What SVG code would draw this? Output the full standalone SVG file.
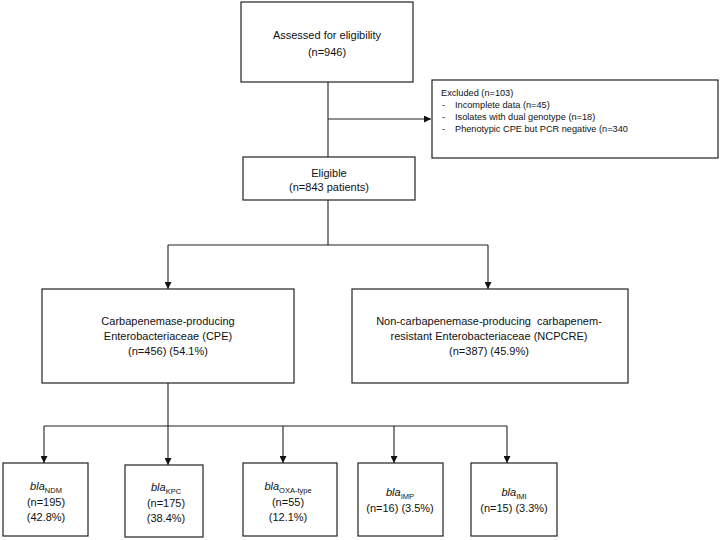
<svg xmlns="http://www.w3.org/2000/svg" width="720" height="540" viewBox="0 0 720 540">
<defs>
<marker id="ah" viewBox="0 0 10 10" refX="10" refY="5" markerWidth="7" markerHeight="7" markerUnits="userSpaceOnUse" orient="auto">
<path d="M0,0 L10,5 L0,10 z" fill="#111"/>
</marker>
<style>
.box{fill:#fff;stroke:#222;stroke-width:1.2}
.ln{fill:none;stroke:#222;stroke-width:1.1}
.arr{fill:none;stroke:#222;stroke-width:1.1;marker-end:url(#ah)}
text{font-family:"Liberation Sans",Arial,sans-serif;font-size:11px;fill:#111}
.c{text-anchor:middle}
.sm{font-size:9.2px}
.sub{font-size:7.5px;font-style:normal}
.it{font-style:italic}
</style>
</defs>
<rect width="720" height="540" fill="#fff"/>
<g id="connectors">
<line class="ln" x1="328" y1="82" x2="328" y2="157"/>
<line class="arr" x1="328" y1="119" x2="431" y2="119"/>
<line class="ln" x1="328" y1="200" x2="328" y2="245"/>
<polyline class="ln" points="168,245 488,245"/>
<line class="arr" x1="168" y1="245" x2="168" y2="289"/>
<line class="arr" x1="488" y1="245" x2="488" y2="289"/>
<line class="arr" x1="168" y1="383" x2="168" y2="465"/>
<polyline class="ln" points="44,426 507,426"/>
<line class="arr" x1="44" y1="426" x2="44" y2="463"/>
<line class="arr" x1="283" y1="426" x2="283" y2="463"/>
<line class="arr" x1="394" y1="426" x2="394" y2="463"/>
<line class="arr" x1="507" y1="426" x2="507" y2="463"/>
</g>
<g id="assessed">
<rect class="box" x="241" y="2" width="172" height="80"/>
<text class="c" x="327" y="39">Assessed for eligibility</text>
<text class="c" x="327" y="56">(n=946)</text>
</g>
<g id="excluded">
<rect class="box" x="432" y="80" width="286" height="78"/>
<text class="sm" x="441" y="96">Excluded (n=103)</text>
<text class="sm" x="442" y="108">-</text><text class="sm" x="455" y="108">Incomplete data (n=45)</text>
<text class="sm" x="442" y="120">-</text><text class="sm" x="455" y="120">Isolates with dual genotype (n=18)</text>
<text class="sm" x="442" y="132">-</text><text class="sm" x="455" y="132">Phenotypic CPE but PCR negative (n=340</text>
</g>
<g id="eligible">
<rect class="box" x="243" y="157" width="172" height="43"/>
<text class="c" x="329" y="177">Eligible</text>
<text class="c" x="329" y="191">(n=843 patients)</text>
</g>
<g id="cpe">
<rect class="box" x="42" y="289" width="252" height="94"/>
<text class="c" x="168" y="325">Carbapenemase-producing</text>
<text class="c" x="168" y="340">Enterobacteriaceae (CPE)</text>
<text class="c" x="168" y="355">(n=456) (54.1%)</text>
</g>
<g id="ncpcre">
<rect class="box" x="352" y="289" width="276" height="94"/>
<text class="c" x="489" y="325">Non-carbapenemase-producing&#160; carbapenem-</text>
<text class="c" x="489" y="340">resistant Enterobacteriaceae (NCPCRE)</text>
<text class="c" x="489" y="355">(n=387) (45.9%)</text>
</g>
<g id="ndm">
<rect class="box" x="3" y="463" width="85" height="73"/>
<text class="c" x="46" y="490"><tspan class="it">bla</tspan><tspan class="sub" dy="3">NDM</tspan></text>
<text class="c" x="46" y="506">(n=195)</text>
<text class="c" x="46" y="521">(42.8%)</text>
</g>
<g id="kpc">
<rect class="box" x="125" y="465" width="78" height="72"/>
<text class="c" x="166" y="491"><tspan class="it">bla</tspan><tspan class="sub" dy="3">KPC</tspan></text>
<text class="c" x="166" y="507">(n=175)</text>
<text class="c" x="166" y="522">(38.4%)</text>
</g>
<g id="oxa">
<rect class="box" x="243" y="463" width="94" height="73"/>
<text class="c" x="288" y="490"><tspan class="it">bla</tspan><tspan class="sub" dy="3">OXA-type</tspan></text>
<text class="c" x="288" y="506">(n=55)</text>
<text class="c" x="288" y="521">(12.1%)</text>
</g>
<g id="imp">
<rect class="box" x="358" y="463" width="85" height="73"/>
<text class="c" x="400" y="496"><tspan class="it">bla</tspan><tspan class="sub" dy="3">IMP</tspan></text>
<text class="c" x="400" y="512">(n=16) (3.5%)</text>
</g>
<g id="imi">
<rect class="box" x="471" y="463" width="86" height="73"/>
<text class="c" x="514" y="496"><tspan class="it">bla</tspan><tspan class="sub" dy="3">IMI</tspan></text>
<text class="c" x="514" y="512">(n=15) (3.3%)</text>
</g>
</svg>
